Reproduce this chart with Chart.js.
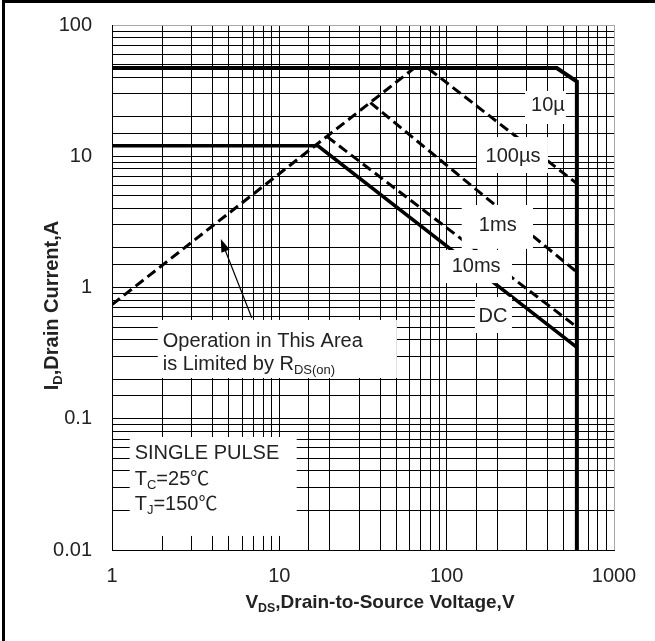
<!DOCTYPE html>
<html>
<head>
<meta charset="utf-8">
<script src="https://cdn.jsdelivr.net/npm/chart.js@4.4.1/dist/chart.umd.min.js"></script>
<style>
  html, body { margin: 0; padding: 0; background: #fff; }
  #wrap { position: absolute; left: 0; top: 0; width: 655px; height: 641px; }
  #frame { position: absolute; left: 2px; top: 0; width: 653px; height: 641px;
           border-left: 3px solid #000; border-top: 3px solid #000; box-sizing: border-box; pointer-events: none; }
</style>
</head>
<body>
<div id="wrap"><canvas id="c"></canvas></div>
<div id="frame"></div>
<script>
// ---- data (V in volts, I in amperes) ----
const xTickLabels = [1, 10, 100, 1000];
const yTickLabels = [0.01, 0.1, 1, 10, 100];

const limit10usV = [1, 455, 600, 600];
const limit10usI = [47, 47, 37, 0.01];

const rdsV = [1, 64];
const rdsI = [0.74, 47];

const pulse100usV = [64, 77, 600];
const pulse100usI = [47, 47, 6.2];

const pulse1msV = [35, 600];
const pulse1msI = [25.6, 1.31];

const pulse10msV = [19.3, 600];
const pulse10msI = [14.1, 0.5];

const dcV = [1, 17, 600];
const dcI = [12, 12, 0.35];

function pts(vs, is) { return vs.map((v, k) => ({ x: v, y: is[k] })); }

const FONT = '"Liberation Sans", Arial, Helvetica, sans-serif';
const TXT = '#222';

// ---- annotation layout (in data coordinates) ----
const boxes = [
  { v: [294, 516], i: [17.6, 31.4] },     // 10µ
  { v: [152, 403], i: [7.45, 14.0] },     // 100µs
  { v: [123, 328], i: [1.97, 4.25] },     // 1ms
  { v: [91.1, 245.6], i: [1.08, 1.93] },  // 10ms
  { v: [147.5, 245.6], i: [0.45, 0.846] },// DC
  { v: [1.876, 50.4], i: [0.2044, 0.566] },// Operation...
  { v: [1.276, 12.7], i: [0.0128, 0.0726] } // SINGLE PULSE
];
const centeredLabels = [
  { parts: [['10µ']], v: 403, i: 25.0 },
  { parts: [['100µs']], v: 249, i: 10.2 },
  { parts: [['1ms']], v: 202, i: 3.05 },
  { parts: [['10ms']], v: 150, i: 1.48 },
  { parts: [['DC']], v: 189, i: 0.617 }
];
const leftLabels = [
  { parts: [['Operation in This Area']], v: 2.01, i: 0.398 },
  { parts: [['is Limited by R'], ['DS(on)', 'sub']], v: 2.01, i: 0.266 },
  { parts: [['SINGLE PULSE']], v: 1.367, i: 0.0558 },
  { parts: [['T'], ['C', 'sub'], ['=25'], ['℃', 'cjk']], v: 1.367, i: 0.0354 },
  { parts: [['T'], ['J', 'sub'], ['=150'], ['℃', 'cjk']], v: 1.367, i: 0.0228 }
];
const arrow = { from: { v: 6.85, i: 0.586 }, to: { v: 4.47, i: 2.34 } };

function partFont(kind, size, weight) {
  if (kind === 'sub') return `${weight} ${size * 0.65}px ${FONT}`;
  if (kind === 'cjk') return `${weight} ${size * 0.95}px "Noto Sans CJK SC", ${FONT}`;
  return `${weight} ${size}px ${FONT}`;
}
function richWidth(ctx, parts, size, weight) {
  let w = 0;
  for (const [t, kind] of parts) {
    ctx.font = partFont(kind, size, weight);
    w += ctx.measureText(t).width;
  }
  return w;
}
function drawRich(ctx, parts, x, cy, size, weight, align) {
  const w = richWidth(ctx, parts, size, weight);
  let px = align === 'center' ? x - w / 2 : x;
  const base = cy + size * 0.36;
  ctx.textBaseline = 'alphabetic';
  ctx.textAlign = 'left';
  for (const [t, kind] of parts) {
    ctx.font = partFont(kind, size, weight);
    ctx.fillText(t, px, kind === 'sub' ? base + size * 0.2 : base);
    px += ctx.measureText(t).width;
  }
}

const annotations = {
  id: 'soaAnnotations',
  afterDatasetsDraw(chart) {
    const { ctx, scales: { x, y } } = chart;
    ctx.save();
    ctx.fillStyle = '#fff';
    for (const b of boxes) {
      const x0 = x.getPixelForValue(b.v[0]), x1 = x.getPixelForValue(b.v[1]);
      const y0 = y.getPixelForValue(b.i[1]), y1 = y.getPixelForValue(b.i[0]);
      ctx.fillRect(x0, y0, x1 - x0, y1 - y0);
    }
    ctx.fillStyle = TXT;
    for (const l of centeredLabels) {
      drawRich(ctx, l.parts, x.getPixelForValue(l.v), y.getPixelForValue(l.i), 20, 'normal', 'center');
    }
    for (const l of leftLabels) {
      drawRich(ctx, l.parts, x.getPixelForValue(l.v), y.getPixelForValue(l.i), 20, 'normal', 'left');
    }
    // arrow
    const ax0 = x.getPixelForValue(arrow.from.v), ay0 = y.getPixelForValue(arrow.from.i);
    const ax1 = x.getPixelForValue(arrow.to.v), ay1 = y.getPixelForValue(arrow.to.i);
    const ang = Math.atan2(ay1 - ay0, ax1 - ax0);
    const hl = 13, hw = 4.5;
    ctx.strokeStyle = '#000';
    ctx.lineWidth = 1.2;
    ctx.beginPath();
    ctx.moveTo(ax0, ay0);
    ctx.lineTo(ax1 - Math.cos(ang) * hl * 0.8, ay1 - Math.sin(ang) * hl * 0.8);
    ctx.stroke();
    ctx.fillStyle = '#000';
    ctx.beginPath();
    ctx.moveTo(ax1, ay1);
    ctx.lineTo(ax1 - Math.cos(ang) * hl - Math.sin(ang) * hw, ay1 - Math.sin(ang) * hl + Math.cos(ang) * hw);
    ctx.lineTo(ax1 - Math.cos(ang) * hl + Math.sin(ang) * hw, ay1 - Math.sin(ang) * hl - Math.cos(ang) * hw);
    ctx.closePath();
    ctx.fill();
    ctx.restore();
  },
  afterDraw(chart) {
    const { ctx, chartArea: a } = chart;
    ctx.save();
    ctx.fillStyle = TXT;
    // x-axis title
    drawRich(ctx, [['V'], ['DS', 'sub'], [',Drain-to-Source Voltage,V']],
      (a.left + a.right) / 2 + 17, a.bottom + 51, 19, 'bold', 'center');
    // y-axis title
    ctx.translate(a.left - 61, (a.top + a.bottom) / 2 + 18);
    ctx.rotate(-Math.PI / 2);
    drawRich(ctx, [['I'], ['D', 'sub'], [',Drain Current,A']], 0, 0, 20, 'bold', 'center');
    ctx.restore();
  }
};

function tickFmt(list) {
  return function (v) {
    const hit = list.find(t => Math.abs(v - t) / t < 1e-6);
    return hit === undefined ? '' : String(hit);
  };
}

const solid = (data, w) => ({ data, borderColor: '#000', borderWidth: w, pointRadius: 0, fill: false, tension: 0 });
const dashed = (data) => ({ data, borderColor: '#000', borderWidth: 3, borderDash: [10, 5], pointRadius: 0, fill: false, tension: 0 });

new Chart(document.getElementById('c'), {
  type: 'line',
  data: {
    datasets: [
      Object.assign(solid(pts(limit10usV, limit10usI), 4), { label: '10µs' }),
      Object.assign(dashed(pts(rdsV, rdsI)), { label: 'RDS(on) limit' }),
      Object.assign(dashed(pts(pulse100usV, pulse100usI)), { label: '100µs' }),
      Object.assign(dashed(pts(pulse1msV, pulse1msI)), { label: '1ms' }),
      Object.assign(dashed(pts(pulse10msV, pulse10msI)), { label: '10ms' }),
      Object.assign(solid(pts(dcV, dcI), 3.5), { label: 'DC' })
    ]
  },
  options: {
    responsive: true,
    maintainAspectRatio: false,
    animation: false,
    layout: { padding: { top: 25, right: 41, left: 0, bottom: 0 } },
    plugins: { legend: { display: false }, tooltip: { enabled: false } },
    scales: {
      x: {
        type: 'logarithmic', min: 1, max: 1000, position: 'bottom',
        afterFit(s) { s.height = 91; s.paddingLeft = 0; s.paddingRight = 0; },
        grid: {
          color: c => (c.tick && Math.abs(c.tick.value - 1000) < 1e-6 ? '#a8a8a8' : '#000'),
          lineWidth: 1, drawTicks: false
        },
        border: { display: true, color: '#000', width: 1 },
        ticks: {
          autoSkip: false, maxRotation: 0, padding: 14, color: TXT,
          font: { family: FONT, size: 20 }, callback: tickFmt(xTickLabels)
        }
      },
      y: {
        type: 'logarithmic', min: 0.01, max: 100, position: 'left',
        afterFit(s) { s.width = 112; s.paddingTop = 0; s.paddingBottom = 0; },
        grid: {
          color: c => (c.tick && Math.abs(c.tick.value - 100) < 1e-6 ? '#a8a8a8' : '#000'),
          lineWidth: 1, drawTicks: false
        },
        border: { display: true, color: '#000', width: 1 },
        ticks: {
          autoSkip: false, padding: 20, color: TXT,
          font: { family: FONT, size: 20 }, callback: tickFmt(yTickLabels)
        }
      }
    }
  },
  plugins: [annotations]
});
</script>
</body>
</html>
